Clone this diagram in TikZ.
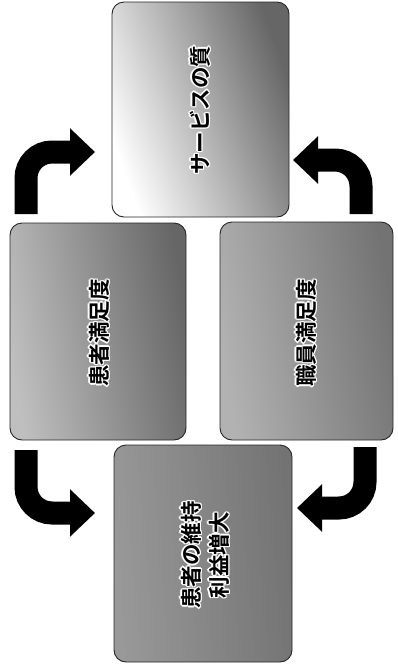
\documentclass[tikz,border=0pt]{standalone}
\usepackage{fontspec}
\newfontfamily\jp{Noto Sans CJK JP}[BoldFont={Noto Sans CJK JP Bold}]
\usetikzlibrary{arrows.meta}
\begin{document}
\begin{tikzpicture}[x=1pt,y=-1pt,
  box/.style={draw=black!85, line width=0.9pt, rounded corners=12pt},
  lbl/.style={font=\jp\bfseries\fontsize{21.5}{28}\selectfont, rotate=90, align=center, text=black},
  halo/.style={lbl, text=white},
  arr/.style={line width=23pt, rounded corners=26pt, -{Triangle[length=25pt,width=46pt]}}]
\useasboundingbox (0,0) rectangle (398,670);
% boxes
\path[box, left color=white, right color=black!60, shading angle=110] (112,2) rectangle (289,217);
\path[box, left color=black!25, right color=black!60, shading angle=100] (10,223) rectangle (186,440);
\path[box, left color=black!30, right color=black!55, shading angle=100] (220,222) rectangle (393,440);
\path[box, left color=black!40, right color=black!55, shading angle=95] (114,445) rectangle (292,662);
% white halos behind the labels
\foreach \dx/\dy in {1.4/0,-1.4/0,0/1.4,0/-1.4,1/1,1/-1,-1/1,-1/-1}{
  \node[halo] at (200+\dx,110+\dy) {サービスの質};
  \node[halo] at (99+\dx,333+\dy) {患者満足度};
  \node[halo] at (306+\dx,333+\dy) {職員満足度};
  \node[halo] at (205+\dx,555+\dy) {患者の維持\\利益増大};
}
\node[lbl] (q) at (200,110) {サービスの質};
\node[lbl] (p) at (99,333) {患者満足度};
\node[lbl] (s) at (306,333) {職員満足度};
\node[lbl] (r) at (205,555) {患者の維持\\利益増大};
% arrows
\coordinate (a1s) at (26,214);  \coordinate (a1c) at (26,152);  \coordinate (a1e) at (95,152);
\coordinate (a2s) at (361,214); \coordinate (a2c) at (361,160); \coordinate (a2e) at (293,160);
\coordinate (a3s) at (26,450);  \coordinate (a3c) at (26,513);  \coordinate (a3e) at (95,513);
\coordinate (a4s) at (365,447); \coordinate (a4c) at (365,508); \coordinate (a4e) at (297,508);
\draw[arr] (a1s) -- (a1c) -- (a1e);
\draw[arr] (a2s) -- (a2c) -- (a2e);
\draw[arr] (a3s) -- (a3c) -- (a3e);
\draw[arr] (a4s) -- (a4c) -- (a4e);
\end{tikzpicture}
\end{document}
